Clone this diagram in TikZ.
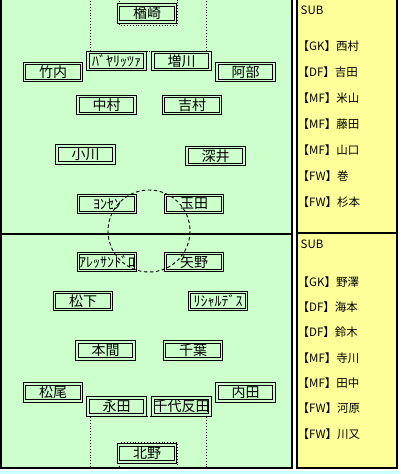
\documentclass[tikz,border=0pt]{standalone}
\usepackage{fontspec}
\newfontfamily\jpfont{Noto Sans CJK JP}
\definecolor{fieldgreen}{HTML}{CCFFCC}
\definecolor{subyellow}{HTML}{FFFF99}
\definecolor{stripcyan}{HTML}{CCFFFF}
\tikzset{
  player/.style={draw=black, line width=1pt, double=fieldgreen, double distance=1.3pt,
    fill=fieldgreen, minimum width=57pt, minimum height=17pt, inner sep=0pt,
    font=\jpfont\fontsize{14}{14}\selectfont},
  subline/.style={anchor=west, inner sep=0pt, font=\jpfont\fontsize{11.5}{12}\selectfont},
  fieldline/.style={line width=2.2pt, draw=black},
  boxline/.style={line width=0.9pt, dotted},
  circleline/.style={line width=0.9pt, dash pattern=on 3.5pt off 2.5pt}
}
\begin{document}
\begin{tikzpicture}[x=1pt,y=-1pt]
\useasboundingbox (0,0) rectangle (400,474);
\fill[white] (0,0) rectangle (400,474);
\fill[stripcyan] (0,471) rectangle (400,474);
% field
\fill[fieldgreen] (0,-5) rectangle (292.5,468);
\draw[fieldline] (1.1,-5) -- (1.1,468) -- (292.2,468) -- (292.2,-5);
\draw[fieldline] (1.1,234) -- (292.2,234);
% sub panel
\fill[subyellow] (297,-5) rectangle (397,468);
\draw[fieldline] (297.1,-5) -- (297.1,468) -- (397.1,468) -- (397.1,-5);
\draw[fieldline] (297.1,233) -- (397.1,233);
% penalty and goal areas
\coordinate (pa1) at (90,-2); \coordinate (pa2) at (90,51.7);
\coordinate (pa3) at (206.7,51.7); \coordinate (pa4) at (206.7,-2);
\draw[boxline] (pa1) -- (pa2) -- (pa3) -- (pa4);
\coordinate (ga1) at (119.3,-2); \coordinate (ga2) at (119.3,25.3);
\coordinate (ga3) at (177.3,25.3); \coordinate (ga4) at (177.3,-2);
\draw[boxline] (ga1) -- (ga2) -- (ga3) -- (ga4);
\coordinate (pb1) at (90,467); \coordinate (pb2) at (90,416.3);
\coordinate (pb3) at (206.7,416.3); \coordinate (pb4) at (206.7,467);
\draw[boxline] (pb1) -- (pb2) -- (pb3) -- (pb4);
\coordinate (gb1) at (119.3,467); \coordinate (gb2) at (119.3,442.5);
\coordinate (gb3) at (177.3,442.5); \coordinate (gb4) at (177.3,467);
\draw[boxline] (gb1) -- (gb2) -- (gb3) -- (gb4);
% top team
\node[player] (narazaki) at (147,13.5) {楢崎};
\node[player] (bayaritza) at (116.5,61) {ﾊﾞﾔﾘｯﾂｧ};
\node[player] (masukawa) at (181.5,61) {増川};
\node[player] (takeuchi) at (53,72) {竹内};
\node[player] (abe) at (245.5,72) {阿部};
\node[player] (nakamura) at (106.5,105) {中村};
\node[player] (yoshimura) at (192,105) {吉村};
\node[player] (ogawa) at (85.5,154.5) {小川};
\node[player] (fukai) at (215.5,156) {深井};
\node[player] (yonsen) at (107,204) {ﾖﾝｾﾝ};
\node[player] (tamada) at (194,204) {玉田};
% bottom team
\node[player] (alessandro) at (107,262) {ｱﾚｯｻﾝﾄﾞﾛ};
\node[player] (yano) at (194,262) {矢野};
\node[player] (matsushita) at (83,301) {松下};
\node[player] (ricardes) at (218,301) {ﾘｼｬﾙﾃﾞｽ};
\node[player] (honma) at (105.5,350.5) {本間};
\node[player] (chiba) at (193,350.5) {千葉};
\node[player] (matsuo) at (53,392.5) {松尾};
\node[player] (uchida) at (245.5,392.5) {内田};
\node[player] (nagata) at (116.5,406.5) {永田};
\node[player] (chiyotanda) at (181.5,406.5) {千代反田};
\node[player] (kitano) at (147,453.5) {北野};
% centre circle
\coordinate (cc) at (149,231);
\draw[circleline] (cc) circle[radius=41];
% substitutes
\node[subline] (subA) at (300.5,10.5) {SUB};
\node[subline] (a1) at (297.5,46) {【GK】西村};
\node[subline] (a2) at (297.5,72) {【DF】吉田};
\node[subline] (a3) at (297.5,98) {【MF】米山};
\node[subline] (a4) at (297.5,124) {【MF】藤田};
\node[subline] (a5) at (297.5,150) {【MF】山口};
\node[subline] (a6) at (297.5,176) {【FW】巻};
\node[subline] (a7) at (297.5,202) {【FW】杉本};
\node[subline] (subB) at (300.5,244.5) {SUB};
\node[subline] (b1) at (297.5,282) {【GK】野澤};
\node[subline] (b2) at (297.5,307) {【DF】海本};
\node[subline] (b3) at (297.5,332) {【DF】鈴木};
\node[subline] (b4) at (297.5,358) {【MF】寺川};
\node[subline] (b5) at (297.5,383) {【MF】田中};
\node[subline] (b6) at (297.5,408) {【FW】河原};
\node[subline] (b7) at (297.5,434) {【FW】川又};
\end{tikzpicture}
\end{document}
